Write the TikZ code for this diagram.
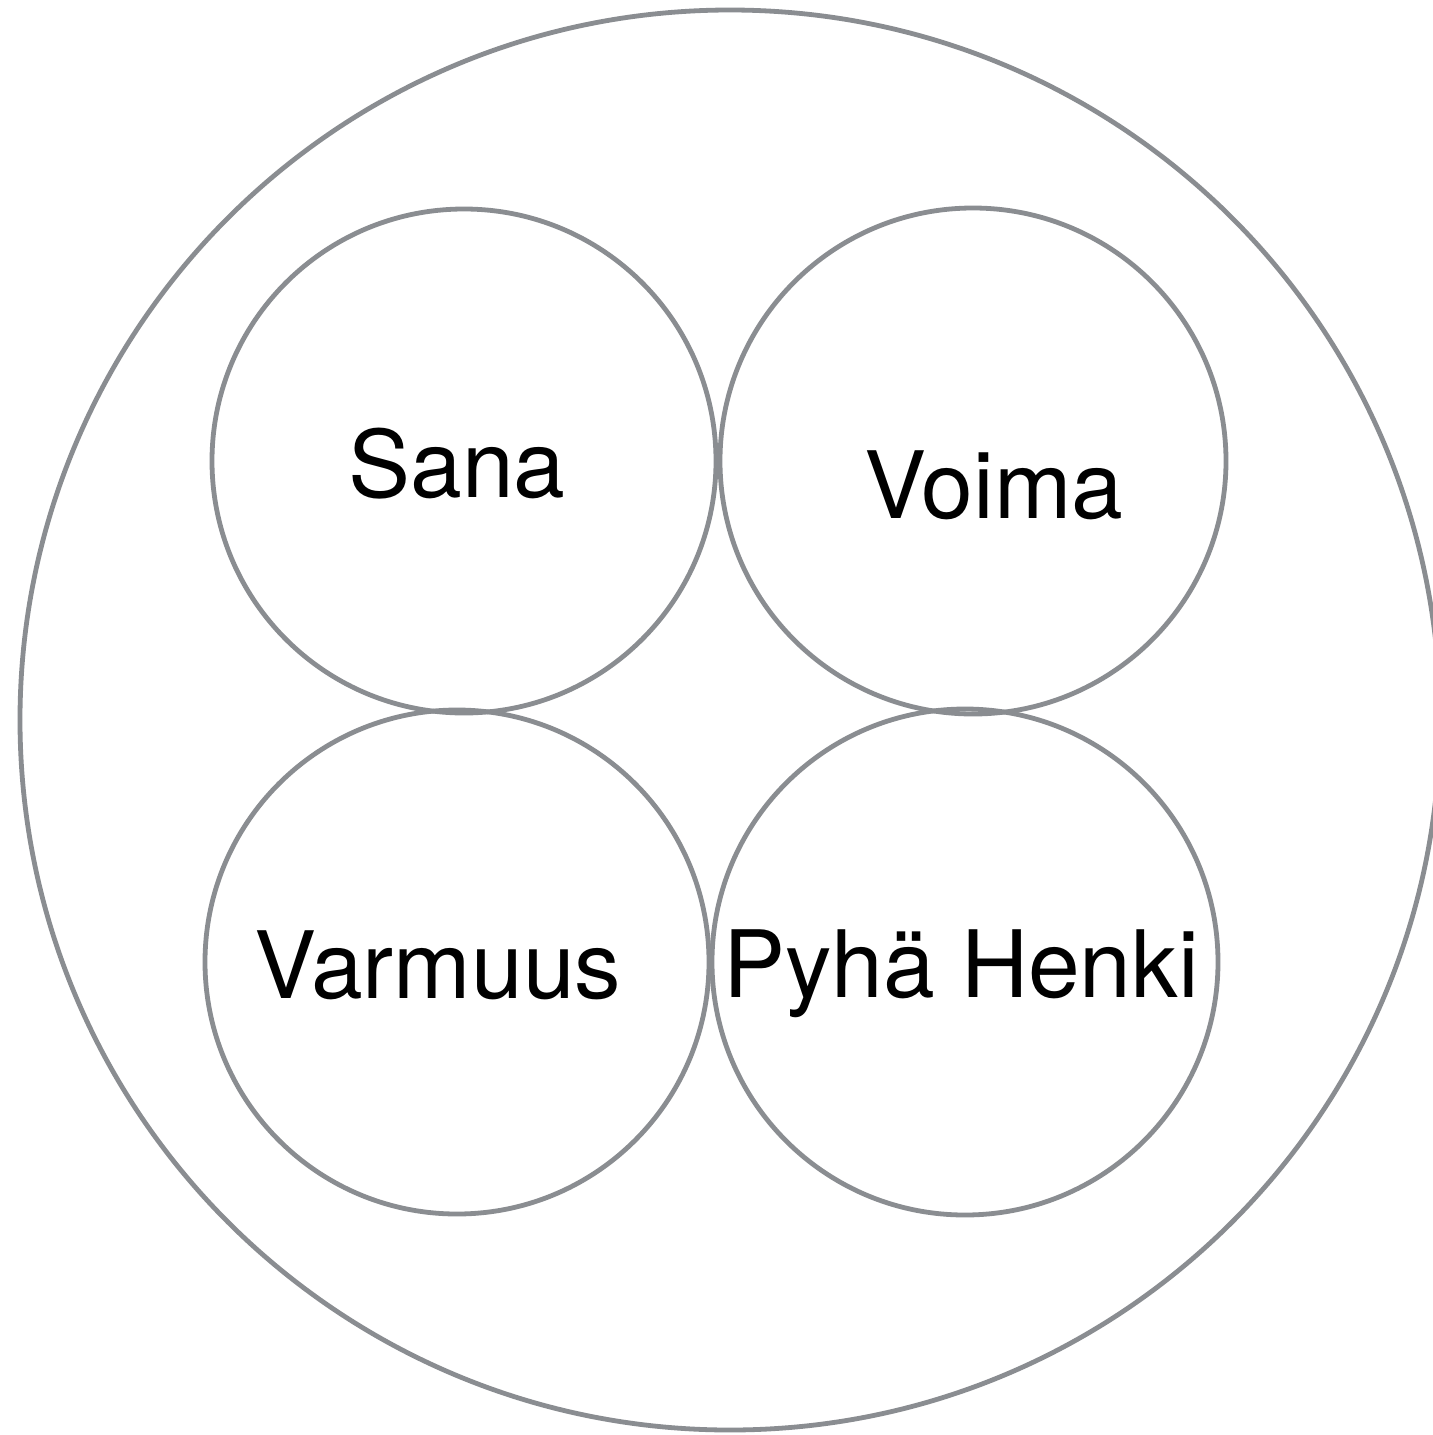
\documentclass[tikz,border=0pt]{standalone}
\usepackage{fontspec}
\setmainfont{TeX Gyre Heros}
\definecolor{ringgrey}{HTML}{8A8D91}
\begin{document}
\begin{tikzpicture}[x=0.5pt,y=-0.5pt,
  ring/.style={circle,draw=ringgrey,line width=2.4pt,inner sep=0pt},
  lbl/.style={anchor=base,font=\fontsize{46.5}{50}\selectfont,inner sep=0pt}]
\useasboundingbox (0,0) rectangle (1433,1435);
\clip (0,0) rectangle (1433,1435);
\fill[white] (0,0) rectangle (1433,1435);
\node[ring,minimum size=710pt] (outer) at (730,720) {};
\node[ring,minimum size=252pt] (sana) at (464,461) {};
\node[ring,minimum size=253pt] (voima) at (973,461) {};
\node[ring,minimum size=252pt] (varmuus) at (457,962) {};
\node[ring,minimum size=253pt] (pyha) at (965,962) {};
\node[lbl] (tsana) at (457,497) {Sana};
\node[lbl] (tvoima) at (994,518) {Voima};
\node[lbl] (tvarmuus) at (438,998) {Varmuus};
\node[lbl] (tpyha) at (961,997) {Pyhä Henki};
\end{tikzpicture}
\end{document}
